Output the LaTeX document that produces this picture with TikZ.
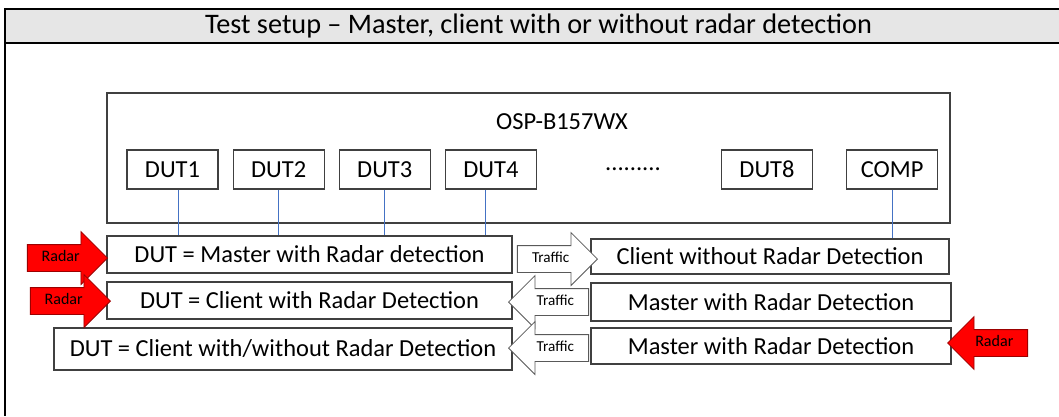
\documentclass[tikz,border=0pt]{standalone}
\usepackage{fontspec}
\setmainfont{Carlito}
\usetikzlibrary{positioning,shapes.arrows}
\definecolor{bandgray}{HTML}{E6E6E6}
\definecolor{linkblue}{HTML}{4472C4}
\definecolor{radarred}{HTML}{FF0000}
\definecolor{radaredge}{HTML}{9C0000}
\begin{document}
\begin{tikzpicture}[x=0.25mm,y=-0.25mm,node distance=3.5mm]
      \tikzstyle{box} = [rectangle, draw=black!75, line width=0.8pt, fill=white, inner sep=0pt, text centered, font=\fontsize{17.4}{20}\selectfont]
      \tikzstyle{dut} = [box, minimum width=22.75mm, minimum height=9.75mm]
      \tikzstyle{rowbox} = [box, minimum height=9.25mm]
      \tikzstyle{blockarrow} = [single arrow, single arrow tip angle=90, single arrow head extend=3.25mm, text height=2.5mm, text depth=0.8mm, inner xsep=0pt, inner ysep=1.6mm, minimum height=20mm, anchor=tip]
      \tikzstyle{traffic} = [blockarrow, draw=black!65, line width=0.6pt, fill=white, font=\fontsize{10.8}{12}\selectfont]
      \tikzstyle{radar} = [blockarrow, draw=radaredge, line width=0.6pt, fill=radarred, font=\fontsize{11.4}{13}\selectfont]
      \tikzstyle{link} = [linkblue, line width=0.6pt]

      \path[fill=white, use as bounding box] (0,0) rectangle (1059,416);

      % frame and title band
      \fill[bandgray] (5,9) rectangle (1059,43);
      \draw[line width=1.6pt] (1059,9) -- (5,9) -- (5,416);
      \draw[line width=1.6pt] (5,43) -- (1059,43);
      \node (title) at (538.5,26) {\fontsize{20.1}{23}\selectfont Test setup – Master, client with or without radar detection};

      % test chamber
      \node (osp) [box, minimum width=210.75mm, minimum height=32.5mm] at (528.5,158) {};
      \node (osp-label) [font=\fontsize{17.4}{20}\selectfont] at (562,122) {OSP-B157WX};

      \node (dut1) [dut] at (172.5,169.5) {DUT1};
      \node (dut2) [dut, right=of dut1] {DUT2};
      \node (dut3) [dut, right=of dut2] {DUT3};
      \node (dut4) [dut, right=of dut3] {DUT4};
      \node (dots) [font=\fontsize{17.4}{20}\selectfont] at (633,169.5) {.........};
      \node (dut8) [dut] at (767,169.5) {DUT8};
      \node (comp) [dut, right=8.25mm of dut8] {COMP};

      % roles
      \node (master1) [rowbox, minimum width=101.25mm] at (309.5,254.5) {DUT = Master with Radar detection};
      \node (client2) [rowbox, minimum width=101.25mm] at (309.5,300.5) {DUT = Client with Radar Detection};
      \node (client3) [rowbox, minimum width=114.5mm, minimum height=10.5mm] at (283,349) {DUT = Client with/without Radar Detection};
      \node (peer1) [rowbox, minimum width=89.5mm, minimum height=8.75mm] at (770,256.5) {Client without Radar Detection};
      \node (peer2) [rowbox, minimum width=90mm, minimum height=9.5mm] at (771,302) {Master with Radar Detection};
      \node (peer3) [rowbox, minimum width=90mm, minimum height=9mm] at (771,346) {Master with Radar Detection};

      \draw [link] ([xshift=1.4mm]dut1.south) -- ([xshift=1.4mm]dut1.south |- master1.north);
      \draw [link] (dut2.south) -- (dut2.south |- master1.north);
      \draw [link] (dut3.south) -- (dut3.south |- master1.north);
      \draw [link] ([xshift=-1.4mm]dut4.south) -- ([xshift=-1.4mm]dut4.south |- master1.north);
      \draw [link] (comp.south) -- (comp.south |- peer1.north);

      % traffic and radar arrows
      \node (traffic1) [traffic] at (598,259) {Traffic};
      \node (traffic2) [traffic, shape border rotate=180] at (508,302) {Traffic};
      \node (traffic3) [traffic, shape border rotate=180] at (508,348) {Traffic};
      \node (radar1) [radar] at (108,258) {Radar};
      \node (radar2) [radar] at (111,301) {Radar};
      \node (radar3) [radar, shape border rotate=180] at (947,343) {Radar};
\end{tikzpicture}
\end{document}
